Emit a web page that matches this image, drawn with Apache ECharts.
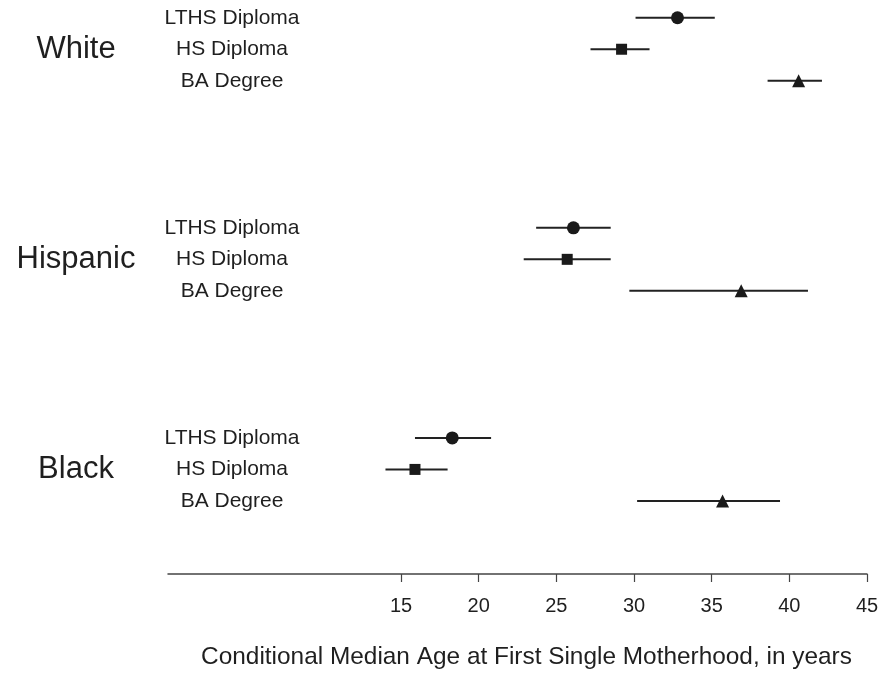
<!DOCTYPE html>
<html>
<head>
<meta charset="utf-8">
<script src="https://cdn.jsdelivr.net/npm/echarts@6/dist/echarts.min.js"></script>
<style>html,body{margin:0;padding:0;background:#fff}#c{width:886px;height:675px}</style>
</head>
<body>
<div id="c"></div>
<script>
var groups = ['White', 'Hispanic', 'Black'];
var levels = ['LTHS Diploma', 'HS Diploma', 'BA Degree'];
var xTicks = [15, 20, 25, 30, 35, 40, 45];

var whiteMedian    = [32.8, 29.2, 40.6];
var whiteLow       = [30.1, 27.2, 38.6];
var whiteHigh      = [35.2, 31.0, 42.1];
var hispanicMedian = [26.1, 25.7, 36.9];
var hispanicLow    = [23.7, 22.9, 29.7];
var hispanicHigh   = [28.5, 28.5, 41.2];
var blackMedian    = [18.3, 15.9, 35.7];
var blackLow       = [15.9, 14.0, 30.2];
var blackHigh      = [20.8, 18.0, 39.4];

var medians = [whiteMedian, hispanicMedian, blackMedian];
var lows = [whiteLow, hispanicLow, blackLow];
var highs = [whiteHigh, hispanicHigh, blackHigh];

var GAP = 6.67;
function rowPos(g, r) { return +(g * GAP + r).toFixed(2); }

var rowValues = [], rowNames = {}, errData = [];
var pointData = [[], [], []];
groups.forEach(function (gName, g) {
  levels.forEach(function (lName, r) {
    var y = rowPos(g, r);
    rowValues.push(y);
    rowNames[y.toFixed(2)] = lName;
    errData.push([lows[g][r], highs[g][r], y]);
    pointData[r].push([medians[g][r], y]);
  });
});
var groupValues = groups.map(function (n, g) { return rowPos(g, 1); });
var groupNames = {};
groupValues.forEach(function (v, g) { groupNames[v.toFixed(2)] = groups[g]; });

var TXT = '#1f1f1f';
var FONT = 'Liberation Sans, Arial, sans-serif';
var symbols = ['circle', 'rect', 'triangle'];
var sizes = [13, 11, 13];

var chart = echarts.init(document.getElementById('c'), null, { renderer: 'canvas' });
var option = {
  animation: false,
  backgroundColor: '#fff',
  textStyle: { fontFamily: FONT, color: TXT },
  grid: { left: 168, right: 19, top: 2, bottom: 101, containLabel: false },
  xAxis: {
    type: 'value', min: 0, max: 45,
    name: 'Conditional Median Age at First Single Motherhood, in years',
    nameLocation: 'middle', nameGap: 71,
    nameTextStyle: { fontSize: 24.4, color: TXT, fontFamily: FONT, padding: [0, 0, 0, 18] },
    axisLine: { show: true, onZero: false, lineStyle: { color: '#444', width: 1.5 } },
    axisTick: { show: true, customValues: xTicks, length: 8, lineStyle: { color: '#444', width: 1.2 } },
    axisLabel: { customValues: xTicks, fontSize: 20, color: TXT, margin: 22, fontFamily: FONT },
    splitLine: { show: false }
  },
  yAxis: [
    {
      type: 'value', min: -0.5, max: 17.66, inverse: true, position: 'left',
      axisLine: { show: false }, axisTick: { show: false }, splitLine: { show: false },
      axisLabel: {
        customValues: rowValues, inside: true, align: 'center', margin: 64,
        fontSize: 21, color: TXT, fontFamily: FONT,
        formatter: function (v) { return rowNames[(+v).toFixed(2)] || ''; }
      }
    },
    {
      type: 'value', min: -0.5, max: 17.66, inverse: true, position: 'left',
      axisLine: { show: false }, axisTick: { show: false }, splitLine: { show: false },
      axisLabel: {
        customValues: groupValues, align: 'center', margin: 92,
        fontSize: 31, color: TXT, fontFamily: FONT,
        formatter: function (v) { return groupNames[(+v).toFixed(2)] || ''; }
      }
    }
  ],
  series: [
    {
      type: 'custom', yAxisIndex: 0, data: errData,
      encode: { x: [0, 1], y: 2 },
      renderItem: function (params, api) {
        var p1 = api.coord([api.value(0), api.value(2)]);
        var p2 = api.coord([api.value(1), api.value(2)]);
        return { type: 'line', shape: { x1: p1[0], y1: p1[1], x2: p2[0], y2: p2[1] },
                 style: { stroke: '#222', lineWidth: 2 } };
      },
      silent: true
    }
  ].concat(levels.map(function (l, r) {
    return {
      type: 'scatter', name: l, yAxisIndex: 0, data: pointData[r],
      symbol: symbols[r], symbolSize: sizes[r],
      itemStyle: { color: '#1a1a1a', opacity: 1 }, silent: true, z: 3
    };
  }))
};
chart.setOption(option);
</script>
</body>
</html>
